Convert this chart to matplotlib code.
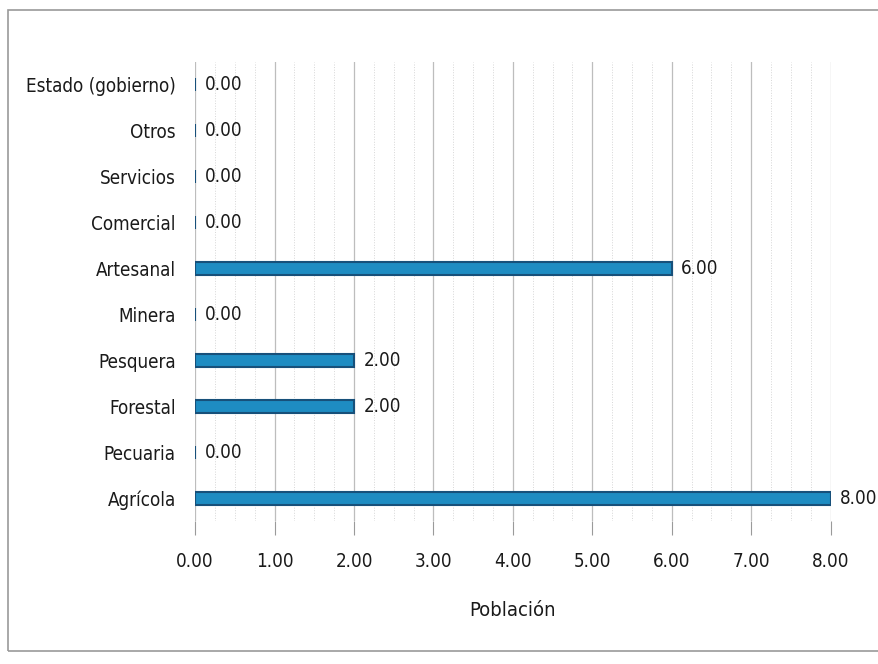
import matplotlib.pyplot as plt
from matplotlib import font_manager
from matplotlib.patches import Rectangle
from matplotlib.ticker import MultipleLocator

# datos
categorias = ['Agrícola', 'Pecuaria', 'Forestal', 'Pesquera', 'Minera',
              'Artesanal', 'Comercial', 'Servicios', 'Otros', 'Estado (gobierno)']
poblacion = [8, 0, 2, 2, 0, 6, 0, 0, 0, 0]
ticks_x = [0, 1, 2, 3, 4, 5, 6, 7, 8]

# fuente estrecha si existe
nombres = {f.name for f in font_manager.fontManager.ttflist}
fuente = 'Liberation Sans Narrow' if 'Liberation Sans Narrow' in nombres else 'DejaVu Sans'
plt.rcParams['font.family'] = [fuente, 'DejaVu Sans']
plt.rcParams['font.stretch'] = 'condensed'

fig = plt.figure(figsize=(8.79, 6.64), dpi=100)
ax = fig.add_axes([0.222, 0.215, 0.723, 0.692])

# marco exterior
fig.patches.append(Rectangle((0.009, 0.02), 1.2, 0.965, transform=fig.transFigure,
                             fill=False, edgecolor='#9a9a9a', linewidth=1.2))

y = range(len(categorias))
ax.barh(y, poblacion, height=0.28, color='#1e8cc2', edgecolor='#17507a', linewidth=1.5, zorder=3)

for yi, v in zip(y, poblacion):
    ax.text(v + 0.12, yi, f'{v:.2f}', va='center', ha='left', fontsize=13.5, color='#1a1a1a')

ax.set_xlim(0, 8)
ax.set_ylim(-0.5, len(categorias) - 0.5)
ax.set_xticks(ticks_x)
ax.set_xticklabels([f'{t:.2f}' for t in ticks_x], fontsize=13.5, color='#1a1a1a')
ax.set_yticks(list(y))
ax.set_yticklabels(categorias, fontsize=13.5, color='#1a1a1a')
ax.xaxis.set_minor_locator(MultipleLocator(0.25))

ax.grid(axis='x', which='major', color='#bdbdbd', linewidth=0.9, zorder=0)
ax.grid(axis='x', which='minor', color='#d6d6d6', linewidth=0.7, linestyle=':', zorder=0)

ax.tick_params(axis='x', which='major', length=10, color='#9a9a9a', pad=12)
ax.tick_params(axis='x', which='minor', length=0)
ax.tick_params(axis='y', length=0, pad=14)
for s in ax.spines.values():
    s.set_visible(False)

ax.set_xlabel('Población', fontsize=14.5, color='#1a1a1a', labelpad=22)

fig.savefig('out.png', dpi=100)
